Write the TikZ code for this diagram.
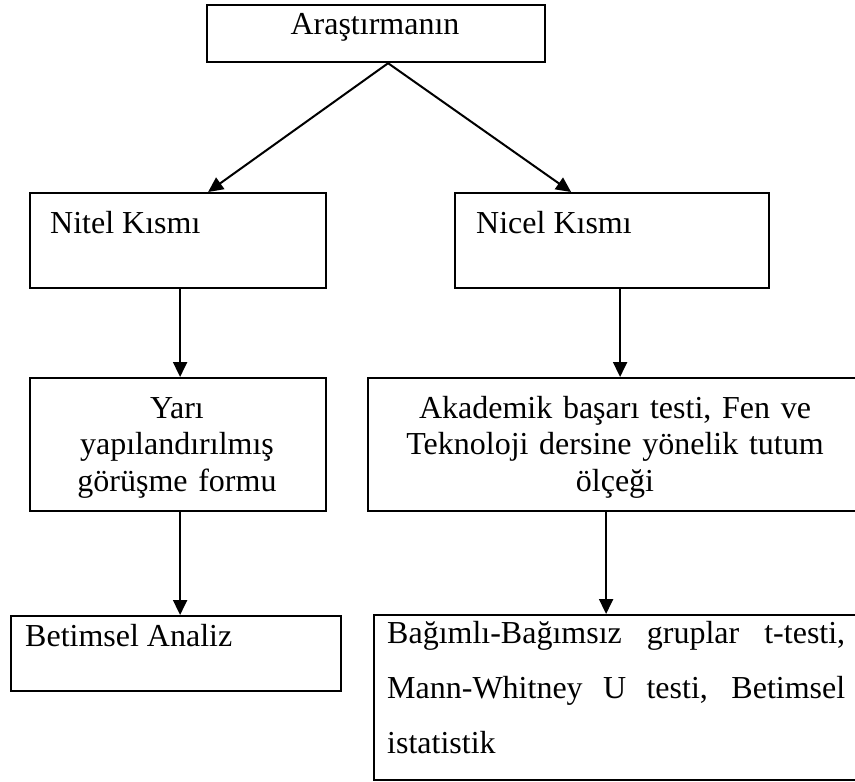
\documentclass[tikz,border=0pt]{standalone}
\usepackage{fontspec}
\setmainfont{Liberation Serif}
\usetikzlibrary{arrows.meta}

\tikzset{
    kutu/.style={draw,line width=2.2pt,rectangle,anchor=north west,inner sep=0pt},
    yazi/.style={inner sep=0pt,font=\fontsize{32}{36.5}\selectfont},
    ok/.style={line width=2pt,-{Triangle[length=15pt,width=14pt]}}
}

\begin{document}
\begin{tikzpicture}[x=1pt,y=-1pt]
                \useasboundingbox (0,0) rectangle (855,782);

                % Boxes
                \node[kutu,minimum width=338pt,minimum height=57pt] (arastirma) at (206,4) {};
                \node[kutu,minimum width=296pt,minimum height=95pt] (nitel) at (29,192) {};
                \node[kutu,minimum width=314pt,minimum height=95pt] (nicel) at (454,192) {};
                \node[kutu,minimum width=296pt,minimum height=133pt] (yari) at (29,377) {};
                \node[kutu,minimum width=496pt,minimum height=133pt] (akademik) at (367,377) {};
                \node[kutu,minimum width=330pt,minimum height=75pt] (betimsel) at (10,615) {};
                \node[kutu,minimum width=492pt,minimum height=165pt] (istat) at (373,614) {};

                % Texts
                \node[yazi,anchor=base] (arastirmaTxt) at (375,34) {Araştırmanın};
                \node[yazi,anchor=base west] (nitelTxt) at (50,233) {Nitel Kısmı};
                \node[yazi,anchor=base west] (nicelTxt) at (476,233) {Nicel Kısmı};
                \node[yazi,anchor=base,text width=290pt,align=center] (yariTxt) at (177,418)
                    {Yarı\\ yapılandırılmış\\ görüşme formu};
                \node[yazi,anchor=base,text width=480pt,align=center] (akademikTxt) at (615,418)
                    {Akademik başarı testi, Fen ve\\ Teknoloji dersine yönelik tutum\\ ölçeği};
                \node[yazi,anchor=base west] (betimselTxt) at (25,646) {Betimsel Analiz};
                \node[yazi,anchor=base west,text width=458pt,align=justify,
                      font=\fontsize{32}{55}\selectfont] (istatTxt) at (387,643)
                    {\hyphenpenalty=10000 Bağımlı-Bağımsız gruplar t-testi,\linebreak
                     Mann-Whitney U testi, Betimsel\linebreak istatistik};

                % Arrows
                \draw[ok] ([xshift=12pt]arastirma.south) -- ([xshift=30pt]nitel.north);
                \draw[ok] ([xshift=12pt]arastirma.south) -- ([xshift=-41pt]nicel.north);
                \draw[ok] ([xshift=2pt]nitel.south) -- ([xshift=2pt]yari.north);
                \draw[ok] ([xshift=8pt]nicel.south) -- ([xshift=8pt]nicel.south |- akademik.north);
                \draw[ok] ([xshift=2pt]yari.south) -- ([xshift=2pt]yari.south |- betimsel.north);
                \draw[ok] ([xshift=-10pt]akademik.south) -- ([xshift=-10pt]akademik.south |- istat.north);
            \end{tikzpicture}
\end{document}
